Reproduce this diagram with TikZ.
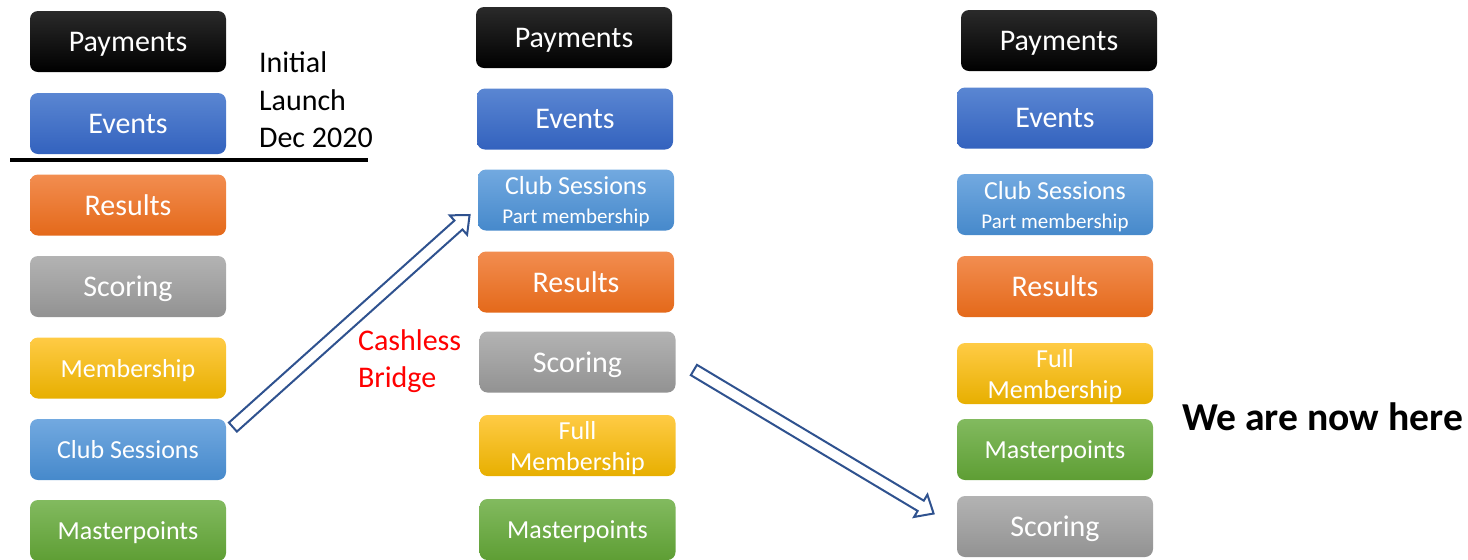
\documentclass[tikz,border=0pt]{standalone}
\usepackage{fontspec}
\setmainfont{Carlito}
\usetikzlibrary{calc}

\definecolor{payTop}{HTML}{2A2A2A}
\definecolor{payBot}{HTML}{000000}
\definecolor{evtTop}{HTML}{5A86D2}
\definecolor{evtBot}{HTML}{3362BE}
\definecolor{clubTop}{HTML}{72A9E0}
\definecolor{clubBot}{HTML}{4689CB}
\definecolor{resTop}{HTML}{F28D50}
\definecolor{resBot}{HTML}{E4691A}
\definecolor{scoTop}{HTML}{B3B3B3}
\definecolor{scoBot}{HTML}{929292}
\definecolor{memTop}{HTML}{FFCB45}
\definecolor{memBot}{HTML}{E7AF00}
\definecolor{mpTop}{HTML}{82BA5F}
\definecolor{mpBot}{HTML}{5E9E34}
\definecolor{arrowBlue}{HTML}{2F528F}

\tikzset{
  tile/.style={rounded corners=4pt, minimum width=98pt, minimum height=30.5pt,
    inner sep=0pt, text=white, align=center, text depth=0pt,
    font=\fontsize{15}{18}\selectfont},
  smalltile/.style={font=\fontsize{13}{15.5}\selectfont},
  paytile/.style={tile, top color=payTop, bottom color=payBot},
  evttile/.style={tile, top color=evtTop, bottom color=evtBot},
  clubtile/.style={tile, smalltile, top color=clubTop, bottom color=clubBot},
  restile/.style={tile, top color=resTop, bottom color=resBot},
  scotile/.style={tile, top color=scoTop, bottom color=scoBot},
  memtile/.style={tile, smalltile, top color=memTop, bottom color=memBot},
  mptile/.style={tile, smalltile, top color=mpTop, bottom color=mpBot},
  blockline/.style={draw=arrowBlue, fill=white, line width=1pt, line join=miter},
}

% hollow block arrow from #1 to #2
\newcommand{\blockarrow}[2]{%
  \coordinate (#2base) at ($(#2)!7.5pt!(#1)$);
  \draw[blockline] ($(#1)!3pt!90:(#2)$) -- ($(#2base)!3pt!90:(#2)$)
    -- ($(#2base)!6.5pt!90:(#2)$) -- (#2) -- ($(#2base)!6.5pt!-90:(#2)$)
    -- ($(#2base)!3pt!-90:(#2)$) -- ($(#1)!3pt!-90:(#2)$) -- cycle;}

\newcommand{\partline}{{\fontsize{10.5}{12}\selectfont Part membership}}

\begin{document}
\begin{tikzpicture}[x=0.5pt, y=-0.5pt]
\useasboundingbox (0,0) rectangle (1468,559);

% first column
\node[paytile] (payA) at (128,41.5) {Payments};
\node[evttile] (evtA) at (128,123.5) {Events};
\node[restile] (resA) at (128,205) {Results};
\node[scotile] (scoA) at (128,286.5) {Scoring};
\node[memtile] (memA) at (128,368) {Membership};
\node[clubtile] (clubA) at (128,449.5) {Club Sessions};
\node[mptile] (mpA) at (128,530.5) {Masterpoints};

\draw[line width=2pt] (10,160) -- (368,160);
\node[anchor = west, align=left, font=\fontsize{15}{18.75}\selectfont] (launch) at (252,100) {Initial\\Launch\\Dec 2020};

% second column
\node[paytile] (payB) at (574,37.5) {Payments};
\node[evttile] (evtB) at (575,119) {Events};
\node[clubtile] (clubB) at (576,200) {Club Sessions\\[-1pt]\partline};
\node[restile] (resB) at (576,282) {Results};
\node[scotile] (scoB) at (577.5,362) {Scoring};
\node[memtile] (memB) at (577.5,445.5) {Full\\Membership};
\node[mptile] (mpB) at (577.5,529.5) {Masterpoints};

\node[anchor = west, align=left, text=red, font=\fontsize{15}{18.5}\selectfont] (bridge) at (351,361) {Cashless\\Bridge};

% third column
\node[paytile] (payC) at (1059,40.5) {Payments};
\node[evttile] (evtC) at (1055,118) {Events};
\node[clubtile] (clubC) at (1055,204.5) {Club Sessions\\[-1pt]\partline};
\node[restile] (resC) at (1055,286.5) {Results};
\node[memtile] (memC) at (1055,373.5) {Full\\Membership};
\node[mptile] (mpC) at (1055,449.5) {Masterpoints};
\node[scotile] (scoC) at (1055,526.5) {Scoring};

\node[anchor = west, font=\fontsize{19.8}{23}\selectfont\bfseries] (here) at (1175,417) {We are now here};

% arrows between columns
\coordinate (a1s) at ($(clubA.north east)+(6.5,8.5)$);
\coordinate (a1e) at ($(clubB.west)+(-8,15)$);
\coordinate (a2s) at ($(scoB.east)+(18,8)$);
\coordinate (a2e) at ($(scoC.west)+(-23,-13)$);
\blockarrow{a1s}{a1e}
\blockarrow{a2s}{a2e}
\end{tikzpicture}
\end{document}
